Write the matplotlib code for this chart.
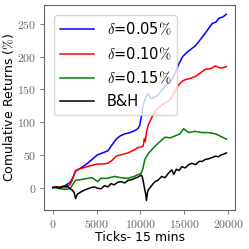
import numpy as np
import matplotlib.pyplot as plt
from matplotlib.ticker import FuncFormatter

plt.rcParams['mathtext.fontset'] = 'cm'

# Data
t_blue = [0, 800, 1300, 1650, 2000, 2300, 2600, 3200, 3770, 4400, 5100, 5700, 6270, 6800, 7230, 7700,
          8190, 8800, 9350, 9700, 9920, 10150, 10300, 10600, 10880, 11100, 11270, 11700, 12040, 12400,
          12800, 13200, 13580, 14000, 14350, 14800, 15310, 15800, 16270, 16700, 17040, 17600, 18190,
          18600, 18960, 19400, 19800]
v_blue = [0, 1, 2, 5, 8, 15, 25, 30, 35, 42, 50, 53, 56, 66, 74, 79,
          82, 84, 87, 90, 95, 112, 126, 138, 144, 138, 136, 139, 142, 148,
          155, 160, 165, 176, 188, 200, 207, 212, 217, 224, 230, 240, 251,
          253, 259, 261, 265]

t_red = [0, 800, 1500, 2000, 2230, 2600, 3200, 3960, 4500, 5100, 5700, 6270, 6800, 7230, 7800,
         8580, 9200, 9730, 10000, 10300, 10450, 10550, 10700, 10880, 11250, 11650, 12000, 12420,
         12900, 13380, 13900, 14350, 14800, 15110, 15700, 16270, 16900, 17420, 18000, 18580, 19000,
         19350, 19800]
v_red = [0, 1, 0, 5, 12, 26, 29, 32, 34, 36, 36, 37, 42, 48, 50,
         53, 57, 61, 62, 63, 75, 70, 85, 95, 106, 116, 121, 126,
         130, 134, 146, 157, 163, 165, 167, 170, 176, 181, 182, 186, 183,
         183, 185]

t_green = [0, 500, 1000, 1500, 2000, 2300, 2600, 3200, 3960, 4500, 5100, 5500, 6200, 7040, 7800,
           8580, 9300, 10100, 10300, 10500, 10900, 11300, 11650, 12200, 12800, 13400, 13960, 14500,
           14920, 15500, 16200, 17040, 17800, 18580, 19200, 19800]
v_green = [0, -1, -2, -3, -1, 5, 11, 12, 14, 15, 9, 14, 14, 17, 15,
           14, 17, 22, 30, 43, 52, 58, 63, 70, 77, 76, 79, 82,
           90, 84, 86, 84, 84, 82, 78, 74]

t_bh = [0, 400, 800, 1200, 1650, 2000, 2230, 2450, 2600, 2800, 3190, 3600, 4000, 4400, 4730, 5100,
        5500, 5900, 6300, 6650, 7000, 7400, 7800, 8200, 8600, 9000, 9350, 9700, 10100, 10200,
        10300, 10450, 10600, 10690, 10800, 10880, 11100, 11400, 11650, 12000, 12420, 12800, 13200,
        13580, 13800, 14100, 14400, 14730, 15100, 15500, 15880, 16300, 16700, 17040, 17400, 17800,
        18200, 18580, 18900, 19200, 19500, 19800]
v_bh = [0, 1, -1, 2, 2, -2, -4, -8, -17, -10, -7, -4, -2, 0, 1, -1,
        -2, 3, 1, 6, 4, 8, 9, 7, 11, 12, 14, 16, 19, 17,
        11, 0, -10, -20, -8, -4, 0, 5, 9, 11, 17, 15, 22,
        27, 20, 28, 26, 32, 30, 35, 37, 35, 40, 40, 43, 44,
        46, 48, 47, 50, 51, 53]

fig = plt.figure(figsize=(2.49, 2.49), dpi=100)
ax = fig.add_axes([0.177, 0.157, 0.767, 0.823])

ax.plot(t_blue, v_blue, color='blue', lw=1.1, label=r'$\delta$=0.05$\%$')
ax.plot(t_red, v_red, color='red', lw=1.1, label=r'$\delta$=0.10$\%$')
ax.plot(t_green, v_green, color='green', lw=1.1, label=r'$\delta$=0.15$\%$')
ax.plot(t_bh, v_bh, color='black', lw=1.1, label='B&H')

ax.set_xticks([0, 5000, 10000, 15000, 20000])
ax.set_yticks([0, 50, 100, 150, 200, 250])
fmt = FuncFormatter(lambda x, p: '$%d$' % x)
ax.xaxis.set_major_formatter(fmt)
ax.yaxis.set_major_formatter(fmt)
ax.tick_params(labelsize=8.5, colors='0.4', length=3, width=0.6, pad=2.5)
for s in ax.spines.values():
    s.set_color('0.4')
    s.set_linewidth(0.8)

ax.set_xlabel('Ticks- 15 mins', fontsize=9, labelpad=0)
ax.set_ylabel(r'Comulative Returns ($\%$)', fontsize=9, labelpad=1)

ax.legend(loc='upper left', fontsize=10.5, handlelength=2.3, handletextpad=0.9,
          labelspacing=0.55, borderpad=0.4, framealpha=0.8, borderaxespad=0.7)

fig.savefig('out.png', dpi=100)
